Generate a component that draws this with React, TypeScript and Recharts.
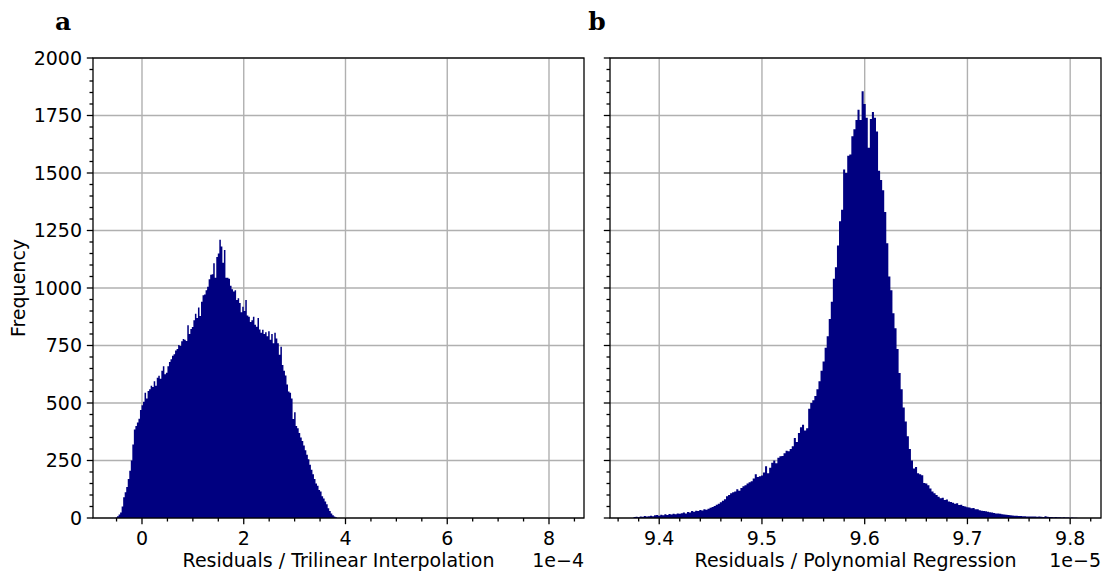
import React from 'react';
import { ComposedChart, Area, XAxis, YAxis, CartesianGrid } from 'recharts';

const NAVY = '#000080';
const FONT = 'DejaVu Sans';
const FS = 19;

// ---------- Panel a: residuals of trilinear interpolation (units of 1e-4) ----------
const leftBinStart = -0.52;
const leftBinWidth = 0.03;
const leftCounts = [
  2, 8, 15, 24, 50, 90, 112, 135, 170, 205,
  250, 320, 385, 400, 415, 432, 470, 490, 505, 545,
  520, 552, 560, 575, 570, 595, 575, 610, 618, 605,
  640, 660, 625, 632, 660, 678, 690, 705, 712, 728,
  735, 752, 748, 768, 778, 775, 770, 838, 800, 822,
  830, 860, 888, 870, 915, 878, 940, 968, 972, 990,
  1005, 1038, 1058, 1060, 1108, 1045, 1135, 1150, 1210, 1180,
  1110, 1165, 1045, 1045, 1040, 1010, 995, 985, 990, 948,
  955, 935, 895, 918, 900, 948, 880, 875, 852, 860,
  875, 840, 832, 870, 820, 805, 818, 800, 808, 790,
  812, 775, 800, 760, 805, 780, 760, 710, 745, 665,
  640, 620, 580, 550, 545, 520, 430, 460, 400, 390,
  370, 350, 335, 315, 295, 275, 255, 232, 210, 190,
  170, 150, 140, 122, 115, 95, 85, 72, 60, 42,
  30, 20, 12, 6, 3,
];

// ---------- Panel b: residuals of polynomial regression (units of 1e-5) ----------
const rightBinStart = 9.375;
const rightBinWidth = 0.002;
const rightCounts = [
  4, 5, 3, 7, 5, 9, 6, 8, 10, 8,
  12, 13, 10, 14, 12, 16, 13, 17, 15, 18,
  16, 20, 18, 21, 24, 20, 26, 24, 30, 27,
  32, 30, 35, 33, 38, 36, 40, 45, 48, 52,
  58, 62, 68, 75, 82, 95, 100, 108, 112, 115,
  125, 118, 130, 138, 142, 150, 155, 160, 172, 190,
  178, 182, 185, 198, 225, 195, 218, 240, 250, 238,
  262, 268, 270, 282, 292, 290, 300, 312, 348, 330,
  370, 395, 405, 380, 390, 475, 500, 512, 530, 560,
  595, 640, 680, 740, 790, 865, 940, 1040, 1090, 1185,
  1290, 1340, 1515, 1500, 1575, 1580, 1660, 1690, 1730, 1775,
  1730, 1855, 1800, 1740, 1610, 1735, 1765, 1740, 1680, 1510,
  1470, 1425, 1330, 1195, 1050, 990, 890, 825, 735, 630,
  560, 480, 420, 355, 300, 250, 215, 222, 195, 190,
  186, 152, 150, 142, 128, 115, 108, 100, 92, 86,
  88, 78, 80, 72, 70, 66, 62, 64, 56, 58,
  52, 50, 47, 46, 42, 44, 38, 38, 34, 32,
  30, 29, 27, 25, 24, 22, 20, 20, 18, 16,
  15, 14, 13, 12, 11, 10, 10, 9, 9, 8,
  8, 7, 7, 6, 7, 6, 5, 6, 5, 4,
  8, 5, 4, 4, 3, 4, 3, 3, 2, 3,
  2, 2, 1, 2, 1, 1,
];

// ---------- Axes ----------
const leftDomain: [number, number] = [-0.963, 8.688];
const rightDomain: [number, number] = [9.3521, 9.8300];
const yDomain: [number, number] = [0, 2000];

const leftMajorTicks = [0, 2, 4, 6, 8];
const leftMinorTicks = [-0.5, 0.5, 1, 1.5, 2.5, 3, 3.5, 4.5, 5, 5.5, 6.5, 7, 7.5, 8.5];
const rightMajorTicks = [9.4, 9.5, 9.6, 9.7, 9.8];
const rightMinorTicks = [9.36, 9.38, 9.42, 9.44, 9.46, 9.48, 9.52, 9.54, 9.56, 9.58, 9.62, 9.64, 9.66, 9.68, 9.72, 9.74, 9.76, 9.78, 9.82];
const yMajorTicks = [0, 250, 500, 750, 1000, 1250, 1500, 1750, 2000];
const yMinorTicks = [
  50, 100, 150, 200, 300, 350, 400, 450, 550, 600, 650, 700,
  800, 850, 900, 950, 1050, 1100, 1150, 1200, 1300, 1350, 1400, 1450,
  1550, 1600, 1650, 1700, 1800, 1850, 1900, 1950,
];

const leftXLabel = 'Residuals / Trilinear Interpolation';
const rightXLabel = 'Residuals / Polynomial Regression';
const leftOffset = '1e\u22124';
const rightOffset = '1e\u22125';
const yLabel = 'Frequency';

function toSteps(start: number, width: number, counts: number[]) {
  const rows = counts.map((c, i) => ({ x: +(start + i * width).toFixed(5), y: c }));
  rows.push({ x: +(start + counts.length * width).toFixed(5), y: 0 });
  return rows;
}

const leftData = toSteps(leftBinStart, leftBinWidth, leftCounts);
const rightData = toSteps(rightBinStart, rightBinWidth, rightCounts);

const isIn = (arr: number[], v: number) => arr.some((m) => Math.abs(m - v) < 1e-9);

const makeXTick = (majors: number[], fmt: (v: number) => string) => (props: any) => {
  const { x, y, payload } = props;
  const v = payload.value;
  const major = isIn(majors, v);
  return (
    <g>
      <line x1={x} x2={x} y1={y} y2={y + (major ? 6.2 : 3.5)} stroke="#000" strokeWidth={1.3} />
      {major && (
        <text x={x} y={y + 26.5} textAnchor="middle" fontSize={FS} fontFamily={FONT} fill="#000">
          {fmt(v)}
        </text>
      )}
    </g>
  );
};

const makeYTick = (showLabels: boolean) => (props: any) => {
  const { x, y, payload } = props;
  const v = payload.value;
  const major = isIn(yMajorTicks, v);
  return (
    <g>
      <line x1={x} x2={x - (major ? 6.2 : 3.5)} y1={y} y2={y} stroke="#000" strokeWidth={1.3} />
      {major && showLabels && (
        <text x={x - 11} y={y + 6.9} textAnchor="end" fontSize={FS} fontFamily={FONT} fill="#000">
          {String(v)}
        </text>
      )}
    </g>
  );
};

const leftXTick = makeXTick(leftMajorTicks, (v) => String(v));
const rightXTick = makeXTick(rightMajorTicks, (v) => v.toFixed(1));
const leftYTick = makeYTick(true);
const rightYTick = makeYTick(false);

type PanelProps = {
  data: { x: number; y: number }[];
  domain: [number, number];
  majors: number[];
  minors: number[];
  xTick: any;
  yTick: any;
  width: number;
  rightMargin: number;
};

function Panel({ data, domain, majors, minors, xTick, yTick, width, rightMargin }: PanelProps) {
  return (
    <ComposedChart
      width={width}
      height={573}
      data={data}
      margin={{ top: 58, right: rightMargin, bottom: 0, left: 0 }}
    >
      <CartesianGrid
        stroke="#b0b0b0"
        strokeWidth={1.4}
        horizontalValues={yMajorTicks}
        verticalValues={majors}
      />
      <XAxis
        dataKey="x"
        type="number"
        domain={domain}
        allowDataOverflow
        ticks={[...majors, ...minors]}
        interval={0}
        height={55}
        axisLine={false}
        tickLine={false}
        tickSize={0}
        tickMargin={0}
        tick={xTick}
      />
      <YAxis
        type="number"
        domain={yDomain}
        allowDataOverflow
        ticks={[...yMajorTicks, ...yMinorTicks]}
        interval={0}
        width={93}
        axisLine={false}
        tickLine={false}
        tickSize={0}
        tickMargin={0}
        tick={yTick}
      />
      <Area
        type="stepAfter"
        dataKey="y"
        fill={NAVY}
        fillOpacity={1}
        stroke="none"
        baseValue={0}
        dot={false}
        activeDot={false}
        isAnimationActive={false}
      />
    </ComposedChart>
  );
}

export default function App() {
  return (
    <div
      style={{
        position: 'absolute',
        left: 0,
        top: 0,
        width: 1104,
        height: 573,
        overflow: 'hidden',
        background: '#fff',
      }}
    >
      <div style={{ position: 'absolute', left: 0, top: 0 }}>
        <Panel
          data={leftData}
          domain={leftDomain}
          majors={leftMajorTicks}
          minors={leftMinorTicks}
          xTick={leftXTick}
          yTick={leftYTick}
          width={600}
          rightMargin={16}
        />
      </div>
      <div style={{ position: 'absolute', left: 517, top: 0 }}>
        <Panel
          data={rightData}
          domain={rightDomain}
          majors={rightMajorTicks}
          minors={rightMinorTicks}
          xTick={rightXTick}
          yTick={rightYTick}
          width={587}
          rightMargin={3}
        />
      </div>
      <svg
        width={1104}
        height={573}
        style={{ position: 'absolute', left: 0, top: 0, pointerEvents: 'none' }}
      >
        <rect x={93} y={58} width={491} height={460} fill="none" stroke="#000" strokeWidth={1.3} />
        <rect x={610} y={58} width={491} height={460} fill="none" stroke="#000" strokeWidth={1.3} />
        <text x={63} y={30} textAnchor="middle" fontSize={25} fontWeight="bold" fontFamily="DejaVu Serif" fill="#000">
          a
        </text>
        <text x={597} y={30} textAnchor="middle" fontSize={25} fontWeight="bold" fontFamily="DejaVu Serif" fill="#000">
          b
        </text>
        <text
          x={25}
          y={288}
          textAnchor="middle"
          fontSize={FS}
          fontFamily={FONT}
          fill="#000"
          transform="rotate(-90 25 288)"
        >
          {yLabel}
        </text>
        <text x={338.5} y={567} textAnchor="middle" fontSize={FS} fontFamily={FONT} fill="#000">
          {leftXLabel}
        </text>
        <text x={855.5} y={567} textAnchor="middle" fontSize={FS} fontFamily={FONT} fill="#000">
          {rightXLabel}
        </text>
        <text x={584} y={567} textAnchor="end" fontSize={FS} fontFamily={FONT} fill="#000">
          {leftOffset}
        </text>
        <text x={1101} y={567} textAnchor="end" fontSize={FS} fontFamily={FONT} fill="#000">
          {rightOffset}
        </text>
      </svg>
    </div>
  );
}
